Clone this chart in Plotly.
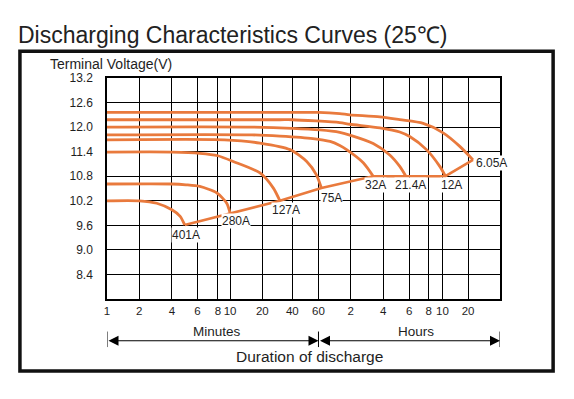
import numpy as np
import plotly.graph_objects as go

# ---------------- data ----------------
# discharge time axis: ticks in minutes and their printed labels
TIME_TICKS_MIN = [1, 2, 4, 6, 8, 10, 20, 40, 60, 120, 240, 360, 480, 600, 1200, 2400]
TIME_TICK_LABELS = ["1", "2", "4", "6", "8", "10", "20", "40", "60",
                    "2", "4", "6", "8", "10", "20", ""]
VOLT_TICKS = [8.4, 9.0, 9.6, 10.2, 10.8, 11.4, 12.0, 12.6, 13.2]

CURRENTS = ["6.05A", "12A", "21.4A", "32A", "75A", "127A", "280A", "401A"]

t_605 = [1, 30, 60, 95, 118, 224, 311, 442, 610, 959, 1336]
v_605 = [12.36, 12.36, 12.36, 12.33, 12.30, 12.25, 12.18, 12.09, 11.86, 11.53, 11.20]

t_12 = [1, 30, 40, 95, 118, 224, 311, 363, 464, 574, 650]
v_12 = [12.18, 12.18, 12.18, 12.11, 12.07, 11.98, 11.88, 11.77, 11.45, 11.04, 10.80]

t_214 = [1, 15, 40, 62, 95, 120, 194, 266, 311, 342]
v_214 = [12.00, 12.00, 11.97, 11.93, 11.87, 11.80, 11.60, 11.32, 11.04, 10.80]

t_32 = [1, 16, 30, 55, 77, 95, 110, 157, 194]
v_32 = [11.81, 11.81, 11.78, 11.72, 11.65, 11.55, 11.45, 11.13, 10.80]

t_75 = [1, 9, 19, 38, 50, 58, 64]
v_75 = [11.69, 11.69, 11.61, 11.45, 11.16, 10.84, 10.51]

t_127 = [1, 4, 6.2, 8, 10.7, 19, 25.8, 30]
v_127 = [11.39, 11.39, 11.36, 11.30, 11.16, 10.88, 10.51, 10.20]

t_280 = [1, 4, 5, 6.2, 7.9, 9.4, 10]
v_280 = [10.61, 10.61, 10.59, 10.55, 10.39, 10.14, 9.90]

t_401 = [1, 2, 2.9, 4, 4.56, 4.9]
v_401 = [10.20, 10.20, 10.14, 9.98, 9.82, 9.61]

SERIES_T = [t_605, t_12, t_214, t_32, t_75, t_127, t_280, t_401]
SERIES_V = [v_605, v_12, v_214, v_32, v_75, v_127, v_280, v_401]

# ---------------- scale / layout ----------------
# the printed time axis is not uniform: relative position of each tick
AXIS_POS = [0, 32.3, 65, 90.6, 111, 123.3, 155.6, 185.6, 211.8, 244,
            276.6, 302.6, 322.3, 336, 361.6, 393.6]
LOG_TICKS = np.log(TIME_TICKS_MIN)


def xpos(t):
    return np.interp(np.log(np.asarray(t, dtype=float)), LOG_TICKS, AXIS_POS)


OFF = 8  # page body margin
W, H = 574 - OFF, 399 - OFF
L, R, T, B = 106.7 - OFF, 500.3 - OFF, 78.3 - OFF, 299.0 - OFF


def px_x(p):
    return (p - OFF - L) / (R - L)


def px_y(p):
    return (B - (p - OFF)) / (B - T)


FONT = "Liberation Sans, Arial, sans-serif"
ORANGE = "#E97A3D"
TXT = "#1e1e1e"

fig = go.Figure()

for tt, vv in zip(SERIES_T, SERIES_V):
    fig.add_trace(go.Scatter(
        x=xpos(tt), y=vv, mode="lines",
        line=dict(color=ORANGE, width=2.8, shape="spline", smoothing=0.7),
        hoverinfo="skip", showlegend=False))

# end-of-discharge line linking curve ends (sorted by time)
ends = sorted([(tt[-1], vv[-1]) for tt, vv in zip(SERIES_T, SERIES_V)])
fig.add_trace(go.Scatter(
    x=xpos([e[0] for e in ends]), y=[e[1] for e in ends], mode="lines",
    line=dict(color=ORANGE, width=2.6), hoverinfo="skip", showlegend=False))

# current labels
label_shift = {"6.05A": (18, -3), "12A": (6, -9), "21.4A": (5, -9), "32A": (2, -9),
               "75A": (10, -10), "127A": (6, -9), "280A": (6, -8), "401A": (1, -10)}
for name, tt, vv in zip(CURRENTS, SERIES_T, SERIES_V):
    dx, dy = label_shift[name]
    fig.add_annotation(x=float(xpos([tt[-1]])[0]), y=vv[-1], text=name,
                       showarrow=False, xshift=dx, yshift=dy,
                       xanchor="center", yanchor="middle",
                       font=dict(family=FONT, size=12, color=TXT),
                       bgcolor="white", borderpad=0)

# axis labels / decorations
fig.add_annotation(xref="paper", yref="paper", x=px_x(48), y=px_y(64),
                   xanchor="left", yanchor="middle", showarrow=False,
                   text="Terminal Voltage(V)", font=dict(family=FONT, size=14, color=TXT))

y_arrow = px_y(340.7)
for a, b in [(TIME_TICKS_MIN[0], 60), (60, TIME_TICKS_MIN[-1])]:
    fig.add_annotation(x=float(xpos([b])[0]), y=y_arrow, xref="x", yref="paper",
                       ax=float(xpos([a])[0]), ay=0, axref="x", ayref="pixel",
                       text="", showarrow=True, arrowside="end+start",
                       arrowhead=2, startarrowhead=2, arrowsize=2, startarrowsize=2,
                       arrowwidth=1, arrowcolor="black", standoff=0, startstandoff=0)
for t in (TIME_TICKS_MIN[0], 60, TIME_TICKS_MIN[-1]):
    xp = float(xpos([t])[0])
    fig.add_shape(type="line", xref="x", yref="paper", x0=xp, x1=xp,
                  y0=px_y(331.5), y1=px_y(347), line=dict(color="black", width=1))

fig.add_annotation(xref="x", yref="paper", x=float(xpos([8])[0]) - 1, y=px_y(331),
                   xanchor="center", yanchor="middle",
                   text="Minutes", showarrow=False,
                   font=dict(family=FONT, size=13.5, color=TXT))
fig.add_annotation(xref="x", yref="paper", x=float(xpos([480])[0]) - 13, y=px_y(331),
                   xanchor="center", yanchor="middle",
                   text="Hours", showarrow=False,
                   font=dict(family=FONT, size=13.5, color=TXT))
fig.add_annotation(xref="paper", yref="paper", x=px_x(310), y=px_y(356.5),
                   xanchor="center", yanchor="middle",
                   text="Duration of discharge", showarrow=False,
                   font=dict(family=FONT, size=15.5, color=TXT))

# outer frame
fig.add_shape(type="rect", xref="paper", yref="paper",
              x0=px_x(19.5), x1=px_x(553.5), y0=px_y(371), y1=px_y(51.5),
              line=dict(color="#111111", width=3.5), fillcolor="rgba(0,0,0,0)",
              layer="above")

fig.update_layout(
    width=W, height=H, autosize=False,
    margin=dict(l=L, r=W - R, t=T, b=H - B),
    paper_bgcolor="white", plot_bgcolor="white",
    font=dict(family=FONT, color=TXT),
    title=dict(text="Discharging Characteristics Curves (25\u2103)",
               xref="container", yref="container", x=(18 - OFF) / W, xanchor="left",
               y=1 - (35 - OFF) / H, yanchor="middle",
               font=dict(family=FONT, size=23, color="#222222")),
    xaxis=dict(range=[AXIS_POS[0], AXIS_POS[-1]], tickmode="array",
               tickvals=AXIS_POS, ticktext=TIME_TICK_LABELS, tickangle=0,
               showgrid=True, gridcolor="black", gridwidth=1,
               showline=True, mirror=True, linecolor="black", linewidth=1.5,
               zeroline=False, ticks="", tickfont=dict(size=11.5, color=TXT)),
    yaxis=dict(range=[7.8, 13.2], tickmode="array", tickvals=VOLT_TICKS,
               ticktext=[f"{v:.1f}" for v in VOLT_TICKS],
               showgrid=True, gridcolor="black", gridwidth=1,
               showline=True, mirror=True, linecolor="black", linewidth=1.5,
               zeroline=False, ticks="", ticklabelstandoff=10,
               tickfont=dict(size=12, color=TXT)),
)

fig.write_html("out.html")
